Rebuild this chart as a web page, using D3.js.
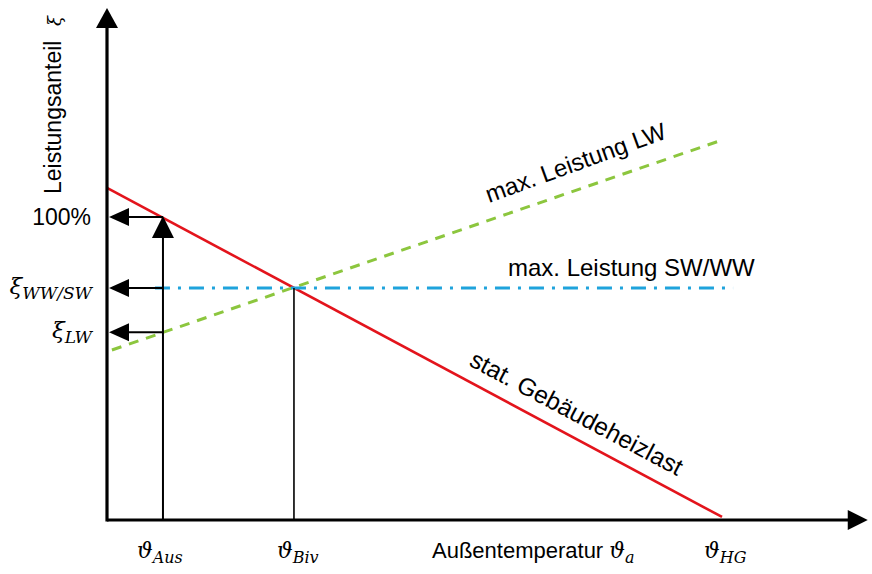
<!DOCTYPE html>
<html><head><meta charset="utf-8">
<script src="https://cdn.jsdelivr.net/npm/d3@7"></script>
<style>html,body{margin:0;padding:0;background:#fff;}svg{display:block;}</style>
</head><body>
<svg id="c" width="872" height="574"></svg>
<script>
// ---- data (abstract units: x = outdoor temperature 0..100 = ϑ_HG, y = power share %, 100 = 100%) ----
const thetaNames = ["Aus", "Biv", "HG"];
const thetaValues = [9.1, 30.4, 100];
const levelNames = ["100%", "WW/SW", "LW"];
const levelValues = [100, 76.6, 62];
const heatLoadX = [0, 100];
const heatLoadY = [109.6, 1];
const maxLWX = [0.8, 100];
const maxLWY = [56.1, 125.4];
const maxSWX = [7.8, 101.8];
const maxSWY = [76.6, 76.6];
const xAxisMax = 123.7;
const yAxisMax = 169;

const svg = d3.select("#c");
const x = d3.scaleLinear().domain([0, 100]).range([107, 722]);
const y = d3.scaleLinear().domain([0, 100]).range([520, 217]);
const line = d3.line().x(d => x(d[0])).y(d => y(d[1]));
const zip = (a, b) => a.map((v, i) => [v, b[i]]);

const sans = "'Liberation Sans', Arial, sans-serif";
const serif = "'DejaVu Serif', 'Liberation Serif', serif";

function head(tx, ty, dir, len, half) {
  let pts;
  if (dir === "up") pts = [[tx, ty], [tx - half, ty + len], [tx + half, ty + len]];
  else if (dir === "left") pts = [[tx, ty], [tx + len, ty - half], [tx + len, ty + half]];
  else pts = [[tx, ty], [tx - len, ty - half], [tx - len, ty + half]];
  svg.append("polygon").attr("points", pts.map(p => p.join(",")).join(" ")).attr("fill", "#000");
}

// heat load line (red)
svg.append("path").attr("d", line(zip(heatLoadX, heatLoadY)))
  .attr("stroke", "#e3141c").attr("stroke-width", 2.6).attr("fill", "none");
// max LW (green dashed)
svg.append("path").attr("d", line(zip(maxLWX, maxLWY)))
  .attr("stroke", "#8cc63e").attr("stroke-width", 3).attr("fill", "none")
  .attr("stroke-dasharray", "10,8");
// max SW/WW (blue dash-dot)
svg.append("path").attr("d", line(zip(maxSWX, maxSWY)))
  .attr("stroke", "#1fa3dc").attr("stroke-width", 3).attr("fill", "none")
  .attr("stroke-dasharray", "15,8,3,8");

// vertical at ϑ_Biv
svg.append("line").attr("x1", x(thetaValues[1])).attr("x2", x(thetaValues[1]))
  .attr("y1", y(0)).attr("y2", y(levelValues[1])).attr("stroke", "#000").attr("stroke-width", 1.6);
// vertical at ϑ_Aus with arrow up
svg.append("line").attr("x1", x(thetaValues[0])).attr("x2", x(thetaValues[0]))
  .attr("y1", y(0)).attr("y2", y(levelValues[0]) + 10).attr("stroke", "#000").attr("stroke-width", 2);
head(x(thetaValues[0]), y(levelValues[0]) - 1, "up", 22, 11);

// horizontal arrows to y axis
levelValues.forEach(v => {
  svg.append("line").attr("x1", x(thetaValues[0])).attr("x2", x(0) + 12)
    .attr("y1", y(v)).attr("y2", y(v)).attr("stroke", "#000").attr("stroke-width", 2);
  head(x(0) + 2, y(v), "left", 20, 9);
});

// axes
svg.append("line").attr("x1", x(0)).attr("x2", x(xAxisMax) - 12).attr("y1", y(0)).attr("y2", y(0))
  .attr("stroke", "#000").attr("stroke-width", 3.2);
head(x(xAxisMax), y(0), "right", 20, 10);
svg.append("line").attr("x1", x(0)).attr("x2", x(0)).attr("y1", y(0) + 1.6).attr("y2", y(yAxisMax) + 12)
  .attr("stroke", "#000").attr("stroke-width", 3.2);
head(x(0), y(yAxisMax), "up", 20, 11);

// y label
svg.append("text").attr("transform", "translate(61,194) rotate(-90)")
  .attr("font-family", sans).attr("font-size", 23).attr("fill", "#000").text("Leistungsanteil");
svg.append("text").attr("transform", "translate(61,26) rotate(-90)")
  .attr("font-family", serif).attr("font-style", "italic").attr("font-size", 18).attr("fill", "#000").text("ξ");

// level labels
svg.append("text").attr("x", 91).attr("y", y(levelValues[0]) + 8).attr("text-anchor", "end")
  .attr("font-family", sans).attr("font-size", 23).text(levelNames[0]);
[1, 2].forEach(i => {
  const t = svg.append("text").attr("x", 92).attr("y", y(levelValues[i]) + 6).attr("text-anchor", "end")
    .attr("font-family", serif).attr("font-style", "italic").attr("fill", "#000");
  t.append("tspan").attr("font-size", 23).text("ξ");
  t.append("tspan").attr("font-size", 17).attr("dy", 5).text(levelNames[i]);
});

// theta labels on x axis
const thetaLabelOffset = [-26, -17, -18];
thetaNames.forEach((n, i) => {
  const t = svg.append("text").attr("x", x(thetaValues[i]) + thetaLabelOffset[i])
    .attr("y", 558).attr("font-family", serif).attr("font-style", "italic").attr("fill", "#000");
  t.append("tspan").attr("font-size", 22).text("ϑ");
  t.append("tspan").attr("font-size", 16).attr("dy", 5).text(n);
});
const xt = svg.append("text").attr("x", 432).attr("y", 558).attr("font-family", sans).attr("font-size", 22);
xt.append("tspan").text("Außentemperatur ");
xt.append("tspan").attr("font-family", serif).attr("font-style", "italic").text("ϑ");
xt.append("tspan").attr("font-family", serif).attr("font-style", "italic").attr("font-size", 16).attr("dy", 5).text("a");

// line labels
svg.append("text").attr("transform", "translate(489,203) rotate(-20)")
  .attr("font-family", sans).attr("font-size", 24).text("max. Leistung LW");
svg.append("text").attr("x", 508).attr("y", 276)
  .attr("font-family", sans).attr("font-size", 24).text("max. Leistung SW/WW");
svg.append("text").attr("transform", "translate(468,365) rotate(28)")
  .attr("font-family", sans).attr("font-size", 24.5).text("stat. Gebäudeheizlast");
</script>
</body></html>
